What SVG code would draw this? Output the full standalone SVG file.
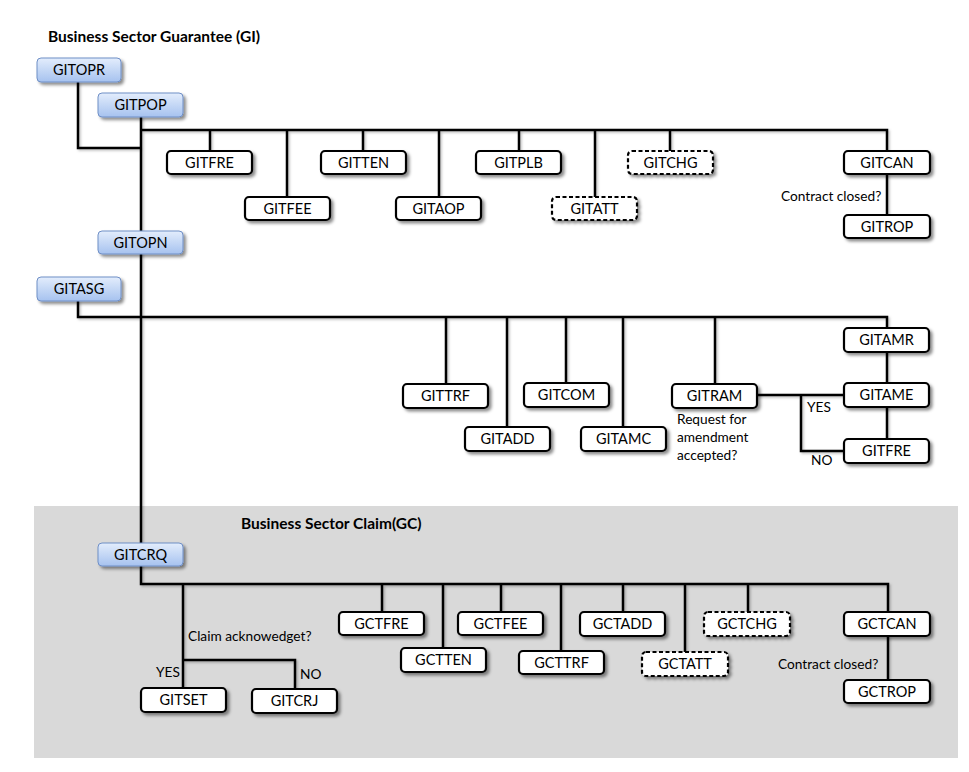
<svg xmlns="http://www.w3.org/2000/svg" width="969" height="772" viewBox="0 0 969 772">
<defs>
<linearGradient id="blue" x1="0" y1="0" x2="0" y2="1">
<stop offset="0" stop-color="#e3edfc"/>
<stop offset="1" stop-color="#a6c2ef"/>
</linearGradient>
<filter id="sh" x="-20%" y="-30%" width="150%" height="180%">
<feDropShadow dx="2.5" dy="2.5" stdDeviation="1.6" flood-color="#000" flood-opacity="0.45"/>
</filter>
<filter id="lsh" x="-5%" y="-5%" width="110%" height="110%">
<feDropShadow dx="1.5" dy="1.5" stdDeviation="1" flood-color="#000" flood-opacity="0.25"/>
</filter>
</defs>
<style>
.bx{fill:#fff;stroke:#000;stroke-width:2.2;filter:url(#sh)}
.dsh{stroke-dasharray:4 2.5}
.bl{fill:url(#blue);stroke:#6f8fc6;stroke-width:1;filter:url(#sh)}
.lb{font-family:Lato,"Open Sans","Liberation Sans",sans-serif;font-size:14.5px;fill:#000;text-anchor:middle}
.sm{font-family:Lato,"Open Sans","Liberation Sans",sans-serif;font-size:13.7px;fill:#000}
.tt{font-family:Lato,"Open Sans","Liberation Sans",sans-serif;font-size:15.5px;font-weight:bold;fill:#000}
.cn{fill:none;stroke:#000;stroke-width:2.5;stroke-linejoin:miter}
</style>
<rect x="34" y="506" width="924" height="252" fill="#d9d9d9"/>
<text class="tt" x="48" y="42">Business Sector Guarantee (GI)</text>
<text class="tt" x="241" y="529">Business Sector Claim(GC)</text>
<g id="connectors" class="cn" filter="url(#lsh)">
<path d="M78,82 V148 H141"/>
<path d="M141,117 V584 H888 V612"/>
<path d="M141,130 H887 V151"/>
<path d="M210,130 V151 M287,130 V197 M363,130 V151 M439,130 V197 M519,130 V151 M595,130 V197 M670,130 V151"/>
<path d="M887,174 V215"/>
<path d="M78,301 V317 H887 V328"/>
<path d="M446,317 V384 M507,317 V427 M566,317 V383 M623,317 V427 M715,317 V384"/>
<path d="M887,352 V383 M887,407 V439"/>
<path d="M757,395 H844 M801,395 V451 H844"/>
<path d="M183,584 V688 M382,584 V612 M443,584 V648 M501,584 V612 M561,584 V651 M623,584 V612 M685,584 V652 M748,584 V612"/>
<path d="M183,660 H295 V689"/>
<path d="M888,636 V680"/>
</g>
<g id="GITOPR"><rect class="bl" x="37" y="58" width="84" height="24" rx="4"/><text class="lb" x="79" y="75">GITOPR</text></g>
<g id="GITPOP"><rect class="bl" x="98" y="93" width="85" height="24" rx="4"/><text class="lb" x="140.5" y="110">GITPOP</text></g>
<g id="GITOPN"><rect class="bl" x="98" y="231" width="85" height="23" rx="4"/><text class="lb" x="140.5" y="247.5">GITOPN</text></g>
<g id="GITASG"><rect class="bl" x="37" y="277" width="84" height="24" rx="4"/><text class="lb" x="79" y="294">GITASG</text></g>
<g id="GITCRQ"><rect class="bl" x="98" y="543" width="85" height="23" rx="4"/><text class="lb" x="140.5" y="559.5">GITCRQ</text></g>
<g id="GITFRE"><rect class="bx" x="167" y="151" width="85" height="23" rx="4"/><text class="lb" x="209.5" y="167.5">GITFRE</text></g>
<g id="GITFEE"><rect class="bx" x="245" y="197" width="85" height="23" rx="4"/><text class="lb" x="287.5" y="213.5">GITFEE</text></g>
<g id="GITTEN"><rect class="bx" x="321" y="151" width="85" height="23" rx="4"/><text class="lb" x="363.5" y="167.5">GITTEN</text></g>
<g id="GITAOP"><rect class="bx" x="396" y="197" width="85" height="23" rx="4"/><text class="lb" x="438.5" y="213.5">GITAOP</text></g>
<g id="GITPLB"><rect class="bx" x="476" y="151" width="85" height="23" rx="4"/><text class="lb" x="518.5" y="167.5">GITPLB</text></g>
<g id="GITATT"><rect class="bx dsh" x="552" y="197" width="85" height="23" rx="4"/><text class="lb" x="594.5" y="213.5">GITATT</text></g>
<g id="GITCHG"><rect class="bx dsh" x="628" y="151" width="85" height="23" rx="4"/><text class="lb" x="670.5" y="167.5">GITCHG</text></g>
<g id="GITCAN"><rect class="bx" x="844" y="151" width="86" height="23" rx="4"/><text class="lb" x="887" y="167.5">GITCAN</text></g>
<g id="GITROP"><rect class="bx" x="844" y="215" width="86" height="23" rx="4"/><text class="lb" x="887" y="231.5">GITROP</text></g>
<text class="sm" x="781" y="201">Contract closed?</text>
<g id="GITAMR"><rect class="bx" x="844" y="328" width="85" height="24" rx="4"/><text class="lb" x="886.5" y="345">GITAMR</text></g>
<g id="GITTRF"><rect class="bx" x="403" y="384" width="85" height="24" rx="4"/><text class="lb" x="445.5" y="401">GITTRF</text></g>
<g id="GITCOM"><rect class="bx" x="524" y="383" width="85" height="24" rx="4"/><text class="lb" x="566.5" y="400">GITCOM</text></g>
<g id="GITRAM"><rect class="bx" x="672" y="384" width="85" height="24" rx="4"/><text class="lb" x="714.5" y="401">GITRAM</text></g>
<g id="GITAME"><rect class="bx" x="844" y="383" width="85" height="24" rx="4"/><text class="lb" x="886.5" y="400">GITAME</text></g>
<g id="GITADD"><rect class="bx" x="465" y="427" width="85" height="24" rx="4"/><text class="lb" x="507.5" y="444">GITADD</text></g>
<g id="GITAMC"><rect class="bx" x="581" y="427" width="85" height="24" rx="4"/><text class="lb" x="623.5" y="444">GITAMC</text></g>
<g id="GITFRE2"><rect class="bx" x="844" y="439" width="85" height="24" rx="4"/><text class="lb" x="886.5" y="456">GITFRE</text></g>
<text class="sm" x="677" y="424">Request for</text>
<text class="sm" x="677" y="442">amendment</text>
<text class="sm" x="677" y="460">accepted?</text>
<text class="sm" x="807" y="412">YES</text>
<text class="sm" x="811" y="465">NO</text>
<g id="GCTFRE"><rect class="bx" x="339" y="612" width="85" height="23" rx="4"/><text class="lb" x="381.5" y="628.5">GCTFRE</text></g>
<g id="GCTFEE"><rect class="bx" x="458" y="612" width="85" height="23" rx="4"/><text class="lb" x="500.5" y="628.5">GCTFEE</text></g>
<g id="GCTADD"><rect class="bx" x="580" y="612" width="85" height="24" rx="4"/><text class="lb" x="622.5" y="629">GCTADD</text></g>
<g id="GCTCHG"><rect class="bx dsh" x="704" y="612" width="86" height="24" rx="4"/><text class="lb" x="747" y="629">GCTCHG</text></g>
<g id="GCTCAN"><rect class="bx" x="844" y="612" width="86" height="24" rx="4"/><text class="lb" x="887" y="629">GCTCAN</text></g>
<g id="GCTTEN"><rect class="bx" x="401" y="648" width="85" height="24" rx="4"/><text class="lb" x="443.5" y="665">GCTTEN</text></g>
<g id="GCTTRF"><rect class="bx" x="519" y="651" width="85" height="23" rx="4"/><text class="lb" x="561.5" y="667.5">GCTTRF</text></g>
<g id="GCTATT"><rect class="bx dsh" x="642" y="652" width="86" height="24" rx="4"/><text class="lb" x="685" y="669">GCTATT</text></g>
<g id="GCTROP"><rect class="bx" x="844" y="680" width="86" height="23" rx="4"/><text class="lb" x="887" y="696.5">GCTROP</text></g>
<g id="GITSET"><rect class="bx" x="141" y="688" width="85" height="24" rx="4"/><text class="lb" x="183.5" y="705">GITSET</text></g>
<g id="GITCRJ"><rect class="bx" x="252" y="689" width="85" height="24" rx="4"/><text class="lb" x="294.5" y="706">GITCRJ</text></g>
<text class="sm" x="188" y="641">Claim acknowedget?</text>
<text class="sm" x="156" y="677">YES</text>
<text class="sm" x="300" y="679">NO</text>
<text class="sm" x="778" y="669">Contract closed?</text>
</svg>
